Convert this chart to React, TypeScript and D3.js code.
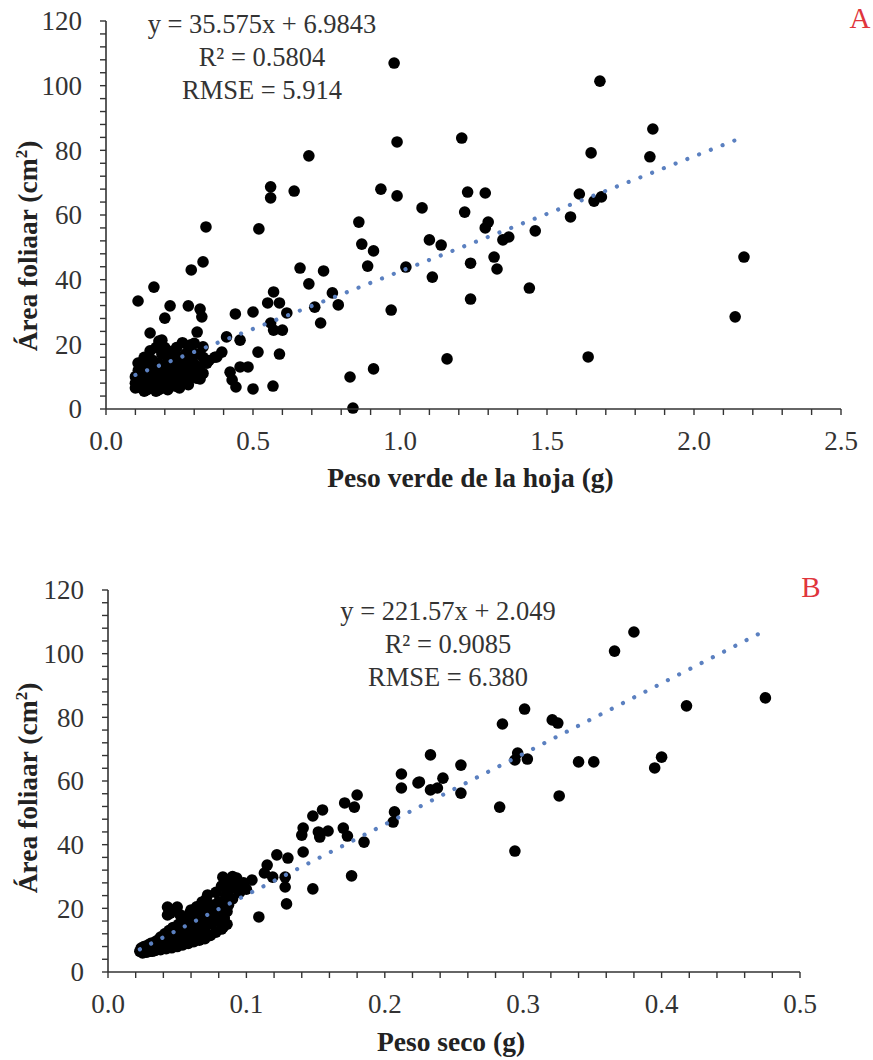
import React from 'react';
import * as d3 from 'd3';

// panel A: peso verde (g) vs área foliar (cm2)
const greenWeightPoints: [number, number][] = [
  [0.98, 107], [1.68, 101.4], [1.86, 86.6], [0.99, 82.6], [1.21, 83.8], [1.65, 79.2], [1.85, 78], [0.69, 78.3],
  [0.99, 65.9], [1.23, 67.1], [1.29, 66.8], [1.075, 62.2], [1.22, 60.9], [1.61, 66.5], [1.66, 64.3], [1.685, 65.6],
  [1.58, 59.4], [1.3, 57.8], [1.29, 56], [1.46, 55.1], [1.1, 52.3], [1.14, 50.7], [1.35, 52.3], [1.37, 53.2],
  [1.02, 43.9], [1.32, 47], [1.33, 43.3], [1.24, 45.1], [1.11, 40.8], [1.24, 34], [1.44, 37.4], [0.97, 30.6],
  [2.17, 47], [2.14, 28.5], [1.16, 15.5], [1.64, 16.1],
  [0.56, 68.7], [0.56, 65.3], [0.64, 67.4], [0.935, 68], [0.34, 56.3], [0.52, 55.7], [0.86, 57.8], [0.87, 51],
  [0.91, 48.9], [0.89, 44.2], [0.29, 43], [0.33, 45.5], [0.163, 37.7], [0.109, 33.4], [0.66, 43.6], [0.74, 42.7],
  [0.69, 38.7], [0.57, 36.2], [0.55, 32.8], [0.59, 32.8], [0.77, 35.9], [0.79, 32.2], [0.71, 31.5], [0.73, 26.6],
  [0.218, 31.9], [0.2, 28.1], [0.28, 31.9], [0.32, 30.9], [0.326, 28.5], [0.31, 23.8], [0.44, 29.4], [0.5, 30],
  [0.57, 24.4], [0.6, 24.4], [0.56, 26.6], [0.615, 29.7], [0.15, 23.5], [0.19, 21.3], [0.41, 22.3], [0.456, 21.3],
  [0.394, 17.6], [0.377, 16.1], [0.517, 17.6], [0.59, 17], [0.343, 14.2], [0.456, 13], [0.483, 13], [0.422, 11.4],
  [0.429, 9], [0.442, 6.8], [0.5, 6.2], [0.568, 7.1], [0.83, 9.9], [0.91, 12.4], [0.84, 0.3], [0.109, 14.2],
  [0.26, 20.5], [0.3, 20.3], [0.286, 19.8], [0.33, 19.2], [0.22, 15.8], [0.14, 15.8], [0.286, 9.6], [0.32, 9.3],
  [0.1, 8], [0.1, 10], [0.11, 7], [0.11, 9], [0.12, 6.5], [0.12, 8.5], [0.12, 11], [0.13, 7], [0.13, 9.5],
  [0.13, 12], [0.14, 6], [0.14, 8], [0.14, 10], [0.15, 7], [0.15, 9], [0.15, 13], [0.16, 6.5], [0.16, 8],
  [0.16, 11], [0.16, 15], [0.17, 7], [0.17, 9.5], [0.17, 12], [0.18, 6], [0.18, 8], [0.18, 10], [0.18, 14],
  [0.19, 7.5], [0.19, 11], [0.19, 17], [0.2, 6.5], [0.2, 9], [0.2, 12.5], [0.2, 19], [0.21, 8], [0.21, 10.5],
  [0.21, 15], [0.22, 7], [0.22, 9.5], [0.22, 13], [0.23, 8], [0.23, 11], [0.24, 7], [0.24, 9], [0.24, 14],
  [0.25, 8.5], [0.25, 12], [0.26, 10], [0.26, 16], [0.27, 9], [0.27, 13], [0.28, 11], [0.28, 18], [0.29, 10],
  [0.29, 15], [0.3, 12], [0.31, 9.5], [0.31, 17], [0.32, 13], [0.33, 11], [0.35, 15], [0.37, 16],
  [0.11, 12], [0.12, 14], [0.13, 16], [0.15, 18], [0.17, 19], [0.18, 21], [0.21, 18], [0.23, 17], [0.24, 19],
  [0.25, 16], [0.27, 17], [0.29, 18], [0.3, 14], [0.31, 12], [0.33, 16], [0.1, 6.5], [0.13, 5.5], [0.17, 5.5],
  [0.21, 6], [0.25, 6.5], [0.28, 7.5],
];

// panel B: peso seco (g) vs área foliar (cm2)
const dryWeightPoints: [number, number][] = [
  [0.38, 106.8], [0.366, 100.8], [0.475, 86.1], [0.418, 83.6], [0.301, 82.6], [0.285, 77.9], [0.321, 79.2],
  [0.325, 78.2], [0.233, 68.2], [0.255, 65], [0.296, 68.8], [0.294, 66.6], [0.303, 66.9], [0.34, 66], [0.351, 66],
  [0.4, 67.5], [0.395, 64.1], [0.225, 59.7], [0.242, 60.9], [0.233, 57.2], [0.238, 57.8], [0.255, 56.2],
  [0.326, 55.3], [0.283, 51.8], [0.294, 38],
  [0.212, 62.2], [0.212, 57.8], [0.224, 59.4], [0.207, 50.3], [0.206, 47.1], [0.185, 40.8], [0.176, 30.2],
  [0.18, 55.6], [0.171, 53.1], [0.178, 51.8], [0.155, 50.9], [0.148, 49], [0.141, 45.2], [0.14, 43], [0.152, 44],
  [0.159, 44.3], [0.153, 42.4], [0.17, 45.2], [0.173, 42.7], [0.141, 37.7], [0.148, 26.1], [0.129, 21.4],
  [0.109, 17.3], [0.122, 36.8], [0.13, 35.8], [0.115, 33.6], [0.113, 31.1], [0.119, 29.8], [0.128, 26.7],
  [0.128, 29.8], [0.083, 29.8], [0.093, 29.5], [0.104, 28.9], [0.084, 26.7], [0.072, 24.2], [0.086, 23.6],
  [0.043, 20.4], [0.05, 20.4], [0.043, 17.9], [0.059, 18.5],
  [0.023, 6.5], [0.024, 7.5], [0.025, 6], [0.026, 8], [0.027, 7], [0.028, 6.2], [0.029, 8.5], [0.03, 7],
  [0.031, 9], [0.032, 6.5], [0.033, 8], [0.034, 9.5], [0.035, 7], [0.036, 10], [0.037, 8], [0.038, 11],
  [0.039, 7.5], [0.04, 9], [0.041, 12], [0.042, 8.5], [0.043, 10], [0.044, 13], [0.045, 9], [0.046, 11],
  [0.047, 14], [0.048, 10], [0.049, 12], [0.05, 9.5], [0.051, 15], [0.052, 11], [0.053, 13], [0.054, 10.5],
  [0.055, 16], [0.056, 12], [0.057, 14], [0.058, 11], [0.059, 17], [0.06, 13], [0.061, 15], [0.062, 12],
  [0.063, 18], [0.064, 14], [0.065, 16], [0.066, 13], [0.067, 19], [0.068, 15], [0.069, 17], [0.07, 14],
  [0.072, 20], [0.073, 16], [0.074, 18], [0.075, 15], [0.076, 21], [0.077, 17], [0.078, 19], [0.079, 16],
  [0.08, 22], [0.081, 18], [0.082, 20], [0.083, 14], [0.084, 17], [0.085, 24], [0.086, 19], [0.087, 21],
  [0.088, 26], [0.09, 23], [0.092, 27], [0.095, 25], [0.098, 28], [0.1, 26],
  [0.026, 6.3], [0.03, 6.5], [0.034, 6.8], [0.038, 7], [0.042, 7.3], [0.046, 7.6], [0.05, 8], [0.054, 8.5],
  [0.058, 9], [0.062, 9.5], [0.066, 10], [0.07, 10.5], [0.074, 11.5], [0.078, 12.5], [0.082, 13.5], [0.086, 15],
  [0.045, 18.5], [0.048, 19.5], [0.052, 18], [0.06, 19.5], [0.064, 20.5], [0.068, 22], [0.071, 23], [0.078, 25],
  [0.082, 27], [0.086, 29], [0.09, 30],
];

const slopeA = 35.575, interceptA = 6.9843;
const slopeB = 221.57, interceptB = 2.049;

const eqLinesA = ['y = 35.575x + 6.9843', 'R² = 0.5804', 'RMSE = 5.914'];
const eqLinesB = ['y = 221.57x + 2.049', 'R² = 0.9085', 'RMSE = 6.380'];

const xTicksA = [0, 0.5, 1, 1.5, 2, 2.5];
const xTicksB = [0, 0.1, 0.2, 0.3, 0.4, 0.5];
const yTicks = [0, 20, 40, 60, 80, 100, 120];

const FONT = '"Liberation Serif", "Times New Roman", serif';

type PanelProps = {
  points: [number, number][];
  slope: number;
  intercept: number;
  xTicks: number[];
  xMinor: number;
  xRange: [number, number];
  yRange: [number, number];
  eqLines: string[];
  eqX: number;
  eqY: number;
  letter: string;
  letterX: number;
  letterY: number;
  xTitle: string;
  xTitleY: number;
  yTitleX: number;
  yTitleY: number;
};

function Panel(p: PanelProps) {
  const x = d3.scaleLinear().domain([p.xTicks[0], p.xTicks[p.xTicks.length - 1]]).range(p.xRange);
  const y = d3.scaleLinear().domain([0, 120]).range(p.yRange);
  const [x0, x1] = x.domain();
  const xMinorTicks = d3.range(x0, x1 + p.xMinor / 2, p.xMinor);
  const yMinorTicks = d3.range(0, 121, 4);

  const [minX, maxX] = d3.extent(p.points, d => d[0]) as [number, number];
  const trend = d3.line<number>()
    .x(d => x(d))
    .y(d => y(p.slope * d + p.intercept))([minX, maxX]);

  const axisColor = '#333';
  const xFmt = d3.format('.1f');

  return (
    <g fontFamily={FONT}>
      {/* points */}
      {p.points.map((d, i) => (
        <circle key={i} cx={x(d[0])} cy={y(d[1])} r={5.8} fill="#000" />
      ))}
      {/* dotted trend line */}
      <path d={trend || ''} fill="none" stroke="#5b80c0" strokeWidth={4.2}
        strokeLinecap="round" strokeDasharray="0.01 12.6" />

      {/* y axis */}
      <line x1={x(x0)} x2={x(x0)} y1={y(0)} y2={y(120)} stroke={axisColor} strokeWidth={1.6} />
      {yMinorTicks.map(t => (
        <line key={'ym' + t} x1={x(x0) - 6} x2={x(x0)} y1={y(t)} y2={y(t)} stroke={axisColor} strokeWidth={1.4} />
      ))}
      {yTicks.map(t => (
        <text key={'yl' + t} x={x(x0) - 24} y={y(t)} dy="0.34em" textAnchor="end" fontSize={27} fill="#333">{t}</text>
      ))}

      {/* x axis */}
      <line x1={x(x0)} x2={x(x1)} y1={y(0)} y2={y(0)} stroke={axisColor} strokeWidth={1.6} />
      {xMinorTicks.map(t => (
        <line key={'xm' + t} x1={x(t)} x2={x(t)} y1={y(0)} y2={y(0) + 6} stroke={axisColor} strokeWidth={1.4} />
      ))}
      {p.xTicks.map(t => (
        <text key={'xl' + t} x={x(t)} y={y(0) + 41} textAnchor="middle" fontSize={27} fill="#333">{xFmt(t)}</text>
      ))}

      {/* titles */}
      <text x={(p.xRange[0] + p.xRange[1]) / 2 - 3} y={p.xTitleY} textAnchor="middle" fontSize={27.5}
        fontWeight="bold" fill="#222">{p.xTitle}</text>
      <text transform={`translate(${p.yTitleX},${p.yTitleY}) rotate(-90)`} textAnchor="middle" fontSize={27.5}
        fontWeight="bold" fill="#222">
        Área foliaar (cm<tspan dy="-10" fontSize={17}>2</tspan><tspan dy="10">)</tspan>
      </text>

      {/* equation */}
      {p.eqLines.map((l, i) => (
        <text key={'eq' + i} x={p.eqX} y={p.eqY + i * 33} textAnchor="middle" fontSize={26.5} fill="#333">{l}</text>
      ))}

      <text x={p.letterX} y={p.letterY} textAnchor="middle" fontSize={29} fill="#e0353c">{p.letter}</text>
    </g>
  );
}

export default function App() {
  return (
    <svg width={873} height={1060} style={{ position: 'absolute', left: 0, top: 0, background: '#fff' }}>
      <rect width={873} height={1060} fill="#fff" />
      <Panel
        points={greenWeightPoints} slope={slopeA} intercept={interceptA}
        xTicks={xTicksA} xMinor={0.1} xRange={[106, 841]} yRange={[409, 21]}
        eqLines={eqLinesA} eqX={262} eqY={33}
        letter="A" letterX={860} letterY={28}
        xTitle="Peso verde de la hoja (g)" xTitleY={487}
        yTitleX={37} yTitleY={246}
      />
      <Panel
        points={dryWeightPoints} slope={slopeB} intercept={interceptB}
        xTicks={xTicksB} xMinor={0.02} xRange={[108, 800]} yRange={[972, 590]}
        eqLines={eqLinesB} eqX={448} eqY={620}
        letter="B" letterX={811} letterY={597}
        xTitle="Peso seco (g)" xTitleY={1051}
        yTitleX={37} yTitleY={788}
      />
    </svg>
  );
}
